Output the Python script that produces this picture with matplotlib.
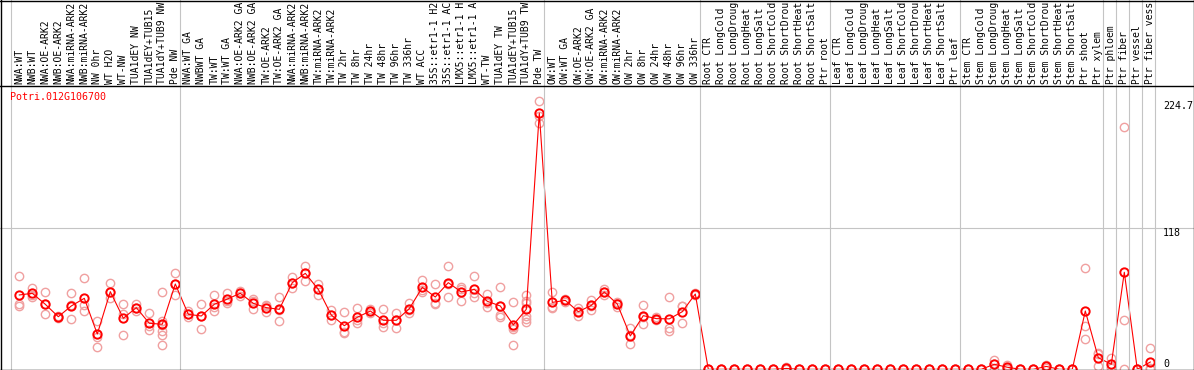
import matplotlib
matplotlib.use("Agg")
import matplotlib.pyplot as plt
from matplotlib.transforms import blended_transform_factory
from matplotlib.lines import Line2D

# ---------------- data ----------------
gene_id = "Potri.012G106700"

labels_nw = ["NWA:WT", "NWB:WT", "NWA:OE-ARK2", "NWB:OE-ARK2", "NWA:miRNA-ARK2",
             "NWB:miRNA-ARK2", "NW 0hr", "WT H2O", "WT-NW", "TUA1dEY NW",
             "TUA1dEY+TUB15 NW", "TUA1dY+TUB9 NW", "Pde NW"]
labels_tw = ["NWA:WT GA", "NWBWT GA", "TW:WT", "TW:WT GA", "NWA:OE-ARK2 GA",
             "NWB:OE-ARK2 GA", "TW:OE-ARK2", "TW:OE-ARK2 GA", "NWA:miRNA-ARK2",
             "NWB:miRNA-ARK2", "TW:miRNA-ARK2", "TW:miRNA-ARK2", "TW 2hr", "TW 8hr",
             "TW 24hr", "TW 48hr", "TW 96hr", "TW 336hr", "WT ACC", "35S::etr1-1 H2O",
             "35S::etr1-1 ACC", "LMX5::etr1-1 H2O", "LMX5::etr1-1 ACC", "WT-TW",
             "TUA1dEY TW", "TUA1dEY+TUB15 TW", "TUA1dY+TUB9 TW", "Pde TW"]
labels_ow = ["OW:WT", "OW:WT GA", "OW:OE-ARK2", "OW:OE-ARK2 GA", "OW:miRNA-ARK2",
             "OW:miRNA-ARK2", "OW 2hr", "OW 8hr", "OW 24hr", "OW 48hr", "OW 96hr",
             "OW 336hr"]
stress = ["CTR", "LongCold", "LongDrought", "LongHeat", "LongSalt",
          "ShortCold", "ShortDrought", "ShortHeat", "ShortSalt"]
labels_root = ["Root " + s for s in stress] + ["Ptr root"]
labels_leaf = ["Leaf " + s for s in stress] + ["Ptr leaf"]
labels_stem = ["Stem " + s for s in stress] + ["Ptr shoot", "Ptr xylem", "Ptr phloem",
                                               "Ptr fiber", "Ptr vessel", "Ptr fiber vessel"]
labels = labels_nw + labels_tw + labels_ow + labels_root + labels_leaf + labels_stem

means = [62.2, 63.6, 54.4, 44.0, 53.0, 59.4, 29.5, 65.0, 42.7, 51.6, 38.5, 37.7, 71.4,
         46.0, 44.6, 54.4, 58.8, 63.6, 55.2, 51.6, 50.2, 72.5, 80.3, 66.9, 45.4, 36.5,
         43.5, 48.8, 41.0, 41.0, 50.7, 68.6, 60.5, 72.5, 64.7, 66.9, 56.9, 53.0, 37.1,
         50.2, 214.4,
         56.0, 57.7, 48.2, 53.5, 64.7, 54.6, 27.9, 44.9, 42.4, 42.2, 48.2, 63.0,
         0, 0, 0, 0, 0, 0, 0.7, 0, 0, 0,
         0, 0, 0, 0, 0, 0, 0, 0, 0, 0,
         0, 0, 4.2, 1.7, 0, 0, 2.4, 0, 0, 48.8, 9.7, 4.2, 81.2, 0, 6.1]

replicates = [
    [78.1, 54.6, 53.2], [68.0, 62.0, 60.8], [64.4, 54.4, 46.0], [45.0, 44.0, 43.0],
    [63.6, 53.8, 41.8], [76.1, 53.8, 49.0], [40.7, 26.8, 18.9], [72.0, 64.4, 59.4],
    [54.4, 46.3, 28.7], [54.4, 51.6, 49.0], [46.9, 36.2, 32.9],
    [64.4, 40.5, 37.0, 32.0, 29.0, 20.3], [80.3, 71.4, 62.2],
    [49.0, 46.0, 43.5], [54.4, 44.6, 34.0], [62.2, 52.0, 49.0], [63.6, 57.0, 55.7],
    [65.5, 63.6, 61.6], [58.6, 56.8, 50.2], [53.8, 52.8, 48.2], [60.2, 49.7, 40.7],
    [77.0, 72.2, 68.3], [86.4, 80.6, 73.9], [71.4, 67.0, 62.4], [49.6, 45.3, 41.3],
    [47.7, 31.6, 30.1], [51.0, 41.0, 38.5], [50.2, 48.5, 47.5], [50.2, 38.5, 35.6],
    [46.9, 41.3, 34.8], [55.7, 49.5, 46.9], [74.7, 66.7, 64.4], [71.4, 55.2, 55.0],
    [86.4, 71.0, 60.2], [69.1, 67.6, 57.4], [78.1, 63.6, 60.8], [63.0, 55.8, 51.9],
    [68.6, 53.0, 45.4, 44.0], [56.0, 35.0, 34.0, 20.3],
    [62.2, 57.0, 55.2, 44.6, 42.1, 39.8], [224.7, 212.0, 206.5],
    [65.0, 52.0, 51.0], [59.0, 57.7, 56.5], [51.0, 48.5, 44.6], [58.0, 53.0, 49.6],
    [67.0, 64.7, 62.5], [56.0, 55.5, 52.0], [34.3, 28.5, 20.9], [53.5, 43.6, 37.6],
    [44.0, 42.4, 41.0], [60.2, 34.5, 32.3], [53.0, 53.0, 38.5], [64.0, 63.0, 62.0],
    [0, 0, 0], [0, 0, 0], [0, 0, 0], [0, 0, 0], [0, 0, 0], [0, 0, 0], [2.0, 0, 0],
    [0, 0, 0], [0, 0, 0], [0, 0, 0],
    [0, 0, 0], [0, 0, 0], [0, 0, 0], [0, 0, 0], [0, 0, 0], [0, 0, 0], [0, 0, 0],
    [0, 0, 0], [0, 0, 0], [0, 0, 0],
    [0, 0, 0], [0, 0, 0], [7.8, 4.5, 0.3], [3.6, 1.5, 0.0], [0, 0, 0], [0, 0, 0],
    [3.6, 2.5, 1.0], [0, 0, 0], [0, 0, 0], [84.5, 36.5, 25.1], [13.4, 12.9, 2.8],
    [9.7, 2.0, 0.9], [202.5, 41.3, 0.0], [0, 0, 0], [17.6, 0.7, 0.0],
]

group_starts = [0, 13, 41, 53, 63, 73, 84, 85, 86, 87, 88]
ytick_values = [224.7, 118, 0]
ytick_labels = ["224.7", "118", "0"]

# ---------------- layout ----------------
W, H = 1194, 370
x0_px, dx_px = 19.3, 13.0      # pixel position of first column, column step
zero_px, top_px = 369.3, 85.5  # pixel rows (from top) of value 0 and of plot top
ppu = 1.195                    # pixels per unit
max_chars = 14                 # header shows only this many characters

mono = "DejaVu Sans Mono"
fs = 7.2
fs_head = 7.0
grid_col = "#c4c4c4"

fig = plt.figure(figsize=(W / 100, H / 100), dpi=100)
fig.patch.set_facecolor("white")
ax = fig.add_axes([0, (H - zero_px) / H, 1, (zero_px - top_px) / H])
ax.set_xlim(-x0_px / dx_px, (W - x0_px) / dx_px)
ax.set_ylim(0, (zero_px - top_px) / ppu)
ax.set_xticks([])
ax.set_yticks([])
for s in ax.spines.values():
    s.set_visible(False)

xs = list(range(len(labels)))

# gridline
ax.axhline(118, color=grid_col, lw=0.8, zorder=1)

# group separators (full figure height)
tr_xfig = blended_transform_factory(ax.transData, fig.transFigure)
for g in group_starts:
    fig.add_artist(Line2D([g - 0.62, g - 0.62], [0, 1], transform=tr_xfig,
                          color=grid_col, lw=0.8, zorder=1))

# replicates
rx, ry = [], []
for i, reps in enumerate(replicates):
    for v in reps:
        rx.append(i)
        ry.append(v)
ax.plot(rx, ry, linestyle="none", marker="o", ms=6.0, mfc="none",
        mec="#f0a0a0", mew=1.0, zorder=2)

# mean line + markers
ax.plot(xs, means, color="red", lw=0.8, zorder=3)
ax.plot(xs, means, linestyle="none", marker="o", ms=6.0, mfc="none",
        mec="red", mew=1.4, zorder=4)

# header labels (shown truncated, as in the reference header cell)
for i, lab in enumerate(labels):
    ax.text(i, 1 - 84 / H, lab[:max_chars].rstrip(), transform=tr_xfig, rotation=90,
            ha="center", va="bottom", fontfamily=mono, fontsize=fs_head,
            color="black", clip_on=False)

# gene id
fig.text(10 / W, 1 - 97 / H, gene_id, color="red", fontfamily=mono, fontsize=fs,
         ha="left", va="center")

# right-side value labels
tr_fig_y = blended_transform_factory(fig.transFigure, ax.transData)
for v, t in zip(ytick_values, ytick_labels):
    ax.text(1163 / W, v, t, transform=tr_fig_y, ha="left",
            va="bottom" if v == 0 else "top", fontfamily=mono, fontsize=fs,
            color="black", clip_on=False)

# frame lines
def hline(py):
    fig.add_artist(Line2D([0, 1], [1 - py / H, 1 - py / H], transform=fig.transFigure,
                          color="black", lw=1.0, zorder=5))

def vline(px):
    fig.add_artist(Line2D([px / W, px / W], [0, 1], transform=fig.transFigure,
                          color="black", lw=1.0, zorder=5))

hline(0.5)
hline(top_px)
hline(369.5)
vline(1.0)
vline(1193.5)

fig.savefig("out.png", dpi=100)
